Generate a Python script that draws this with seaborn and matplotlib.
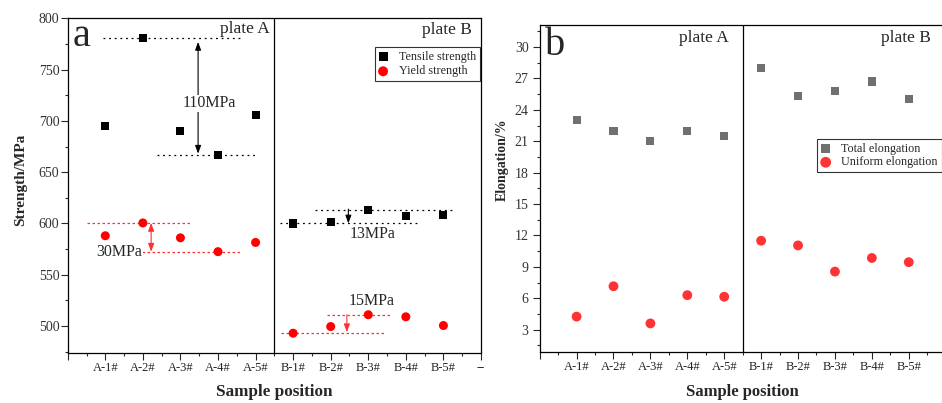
import numpy as np
import pandas as pd
import matplotlib
matplotlib.use("Agg")
import matplotlib.pyplot as plt
import seaborn as sns
from matplotlib.ticker import MultipleLocator

# -----------------------------
# data
# -----------------------------
samples = ["A-1#", "A-2#", "A-3#", "A-4#", "A-5#", "B-1#", "B-2#", "B-3#", "B-4#", "B-5#"]
tensile = [695, 781, 690, 667, 706, 600, 601.5, 613, 607, 608]
yield_str = [588, 600.5, 586, 572.5, 581.5, 493, 499.5, 511, 509, 500.5]
total_el = [23.0, 22.0, 21.0, 22.0, 21.5, 28.0, 25.3, 25.8, 26.7, 25.0]
uniform_el = [4.25, 7.15, 3.6, 6.3, 6.15, 11.5, 11.05, 8.55, 9.85, 9.45]
tick_labels = [""] + samples + ["--"]

df = pd.DataFrame({
    "pos": np.arange(1, len(samples) + 1),
    "sample": samples,
    "tensile": tensile,
    "yield": yield_str,
    "total": total_el,
    "uniform": uniform_el,
})
A = df[df["sample"].str.startswith("A")]
B = df[df["sample"].str.startswith("B")]

sns.set_style("ticks")
plt.rcParams["font.family"] = ["Liberation Serif", "DejaVu Serif"]
plt.rcParams["axes.linewidth"] = 0.9

fig = plt.figure(figsize=(9.42, 4.03), dpi=100)
ax1 = fig.add_axes([0.0719, 0.1248, 0.4387, 0.8298])
ax2 = fig.add_axes([0.5729, 0.1273, 0.4310, 0.8107])


def style_axis(ax, ylim, ymaj, ymin, ypad):
    ax.set_xlim(0, 11)
    ax.set_ylim(*ylim)
    ax.set_xticks(range(12))
    ax.set_xticklabels(tick_labels, fontsize=9, color="#222222")
    ax.xaxis.set_minor_locator(MultipleLocator(0.5))
    ax.yaxis.set_major_locator(MultipleLocator(ymaj))
    ax.yaxis.set_minor_locator(MultipleLocator(ymin))
    ax.tick_params(axis="both", which="major", direction="out", length=5, width=0.8,
                   top=False, right=False)
    ax.tick_params(axis="both", which="minor", direction="out", length=2.5, width=0.8,
                   top=False, right=False)
    ax.tick_params(axis="x", pad=2)
    ax.tick_params(axis="y", labelsize=10, labelcolor="#333333", pad=ypad)
    for sp in ax.spines.values():
        sp.set_visible(True)
        sp.set_color("black")
    ax.axvline(5.5, color="black", lw=0.9)


# -----------------------------
# a) strength
# -----------------------------
style_axis(ax1, (474, 800), 50, 25, 1)
sns.scatterplot(data=df, x="pos", y="tensile", marker="s", color="black", s=34,
                edgecolor="none", label="Tensile strength", ax=ax1, zorder=4)
sns.scatterplot(data=df, x="pos", y="yield", marker="o", color="#ff0000", s=42,
                edgecolor="none", label="Yield strength", ax=ax1, zorder=4)

dot = (0, (1.5, 3))
dash = (0, (2, 2))
red = "#ff3030"
ax1.hlines(A["tensile"].max(), 0.93, 4.58, colors="black", linestyles=[dot], lw=0.9)
ax1.hlines(A["tensile"].min(), 2.37, 4.98, colors="black", linestyles=[dot], lw=0.9)
ax1.hlines(A["yield"].max(), 0.5, 3.32, colors=red, linestyles=[dash], lw=0.9)
ax1.hlines(A["yield"].min(), 1.85, 4.58, colors=red, linestyles=[dash], lw=0.9)
ax1.hlines(B["tensile"].max(), 6.58, 10.26, colors="black", linestyles=[dot], lw=0.9)
ax1.hlines(B["tensile"].min(), 5.65, 9.32, colors="black", linestyles=[dot], lw=0.9)
ax1.hlines(B["yield"].max(), 6.89, 8.57, colors=red, linestyles=[dash], lw=0.9)
ax1.hlines(B["yield"].min(), 5.69, 8.48, colors=red, linestyles=[dash], lw=0.9)

both = "<|-|>,head_length=0.6,head_width=0.22"
down = "-|>,head_length=0.6,head_width=0.22"
ax1.annotate("", xy=(3.47, 668), xytext=(3.47, 777),
             arrowprops=dict(arrowstyle=both, color="black", lw=0.8, shrinkA=0, shrinkB=0,
                             mutation_scale=8), zorder=2)
ax1.annotate("", xy=(2.22, 572.5), xytext=(2.22, 600.5),
             arrowprops=dict(arrowstyle=both, color=red, lw=0.8, shrinkA=0, shrinkB=0,
                             mutation_scale=8), zorder=2)
ax1.annotate("", xy=(7.47, 600), xytext=(7.47, 614),
             arrowprops=dict(arrowstyle=down, color="black", lw=0.8, shrinkA=0, shrinkB=0,
                             mutation_scale=8), zorder=2)
ax1.annotate("", xy=(7.43, 494), xytext=(7.43, 511),
             arrowprops=dict(arrowstyle=down, color=red, lw=0.8, shrinkA=0, shrinkB=0,
                             mutation_scale=8), zorder=2)

box = dict(facecolor="white", edgecolor="none", pad=0.5)
ax1.text(3.76, 717, "110MPa", fontsize=11.5, ha="center", va="center", bbox=box, zorder=3)
ax1.text(1.38, 572.4, "30MPa", fontsize=11.5, ha="center", va="center", bbox=box, zorder=3)
ax1.text(8.12, 589.5, "13MPa", fontsize=11.5, ha="center", va="center", zorder=3)
ax1.text(8.09, 524.4, "15MPa", fontsize=11.5, ha="center", va="center", zorder=3)

ax1.text(0.012, 0.917, "a", fontsize=29, transform=ax1.transAxes, ha="left", va="baseline")
xt = ax1.get_xaxis_transform()
ax1.text(5.38, 0.955, "plate A", fontsize=12.5, transform=xt, ha="right", va="baseline")
ax1.text(10.77, 0.953, "plate B", fontsize=12.5, transform=xt, ha="right", va="baseline")

ax1.legend(loc="upper right", bbox_to_anchor=(0.997, 0.913), borderaxespad=0,
           fontsize=8.75, frameon=True, fancybox=False, edgecolor="black",
           handlelength=0.8, handletextpad=0.9, borderpad=0.3, labelspacing=0.2,
           markerscale=1.1)
ax1.get_legend().get_frame().set_linewidth(0.8)

ax1.set_xlabel("Sample position", fontsize=12.3, fontweight="bold")
ax1.set_ylabel("Strength/MPa", fontsize=11, fontweight="bold")
ax1.xaxis.set_label_coords(0.5, -0.094)
ax1.yaxis.set_label_coords(-0.099, 0.516)

# -----------------------------
# b) elongation
# -----------------------------
style_axis(ax2, (0.9, 32.1), 3, 1.5, 3)
sns.scatterplot(data=df, x="pos", y="total", marker="s", color="#707070", s=34,
                edgecolor="none", label="Total elongation", ax=ax2, zorder=4)
sns.scatterplot(data=df, x="pos", y="uniform", marker="o", color="#ff3333", s=50,
                edgecolor="none", label="Uniform elongation", ax=ax2, zorder=4)

ax2.text(0.013, 0.908, "b", fontsize=29, transform=ax2.transAxes, ha="left", va="baseline")
xt2 = ax2.get_xaxis_transform()
ax2.text(5.11, 0.947, "plate A", fontsize=12.5, transform=xt2, ha="right", va="baseline")
ax2.text(10.59, 0.947, "plate B", fontsize=12.5, transform=xt2, ha="right", va="baseline")

ax2.legend(loc="upper right", bbox_to_anchor=(0.99, 0.651), borderaxespad=0,
           fontsize=8.75, frameon=True, fancybox=False, edgecolor="black",
           handlelength=0.8, handletextpad=0.9, borderpad=0.3, labelspacing=0.15,
           markerscale=1.1)
ax2.get_legend().get_frame().set_linewidth(0.8)

ax2.set_xlabel("Sample position", fontsize=12, fontweight="bold")
ax2.set_ylabel("Elongation/%", fontsize=10, fontweight="bold")
ax2.xaxis.set_label_coords(0.5, -0.099)
ax2.yaxis.set_label_coords(-0.0756, 0.587)

fig.savefig("out.png", dpi=100)
